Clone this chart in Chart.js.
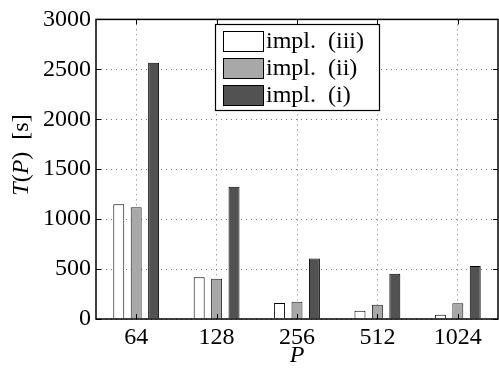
<!DOCTYPE html>
<html>
<head>
<meta charset="utf-8">
<script src="https://cdn.jsdelivr.net/npm/chart.js@4/dist/chart.umd.min.js"></script>
<style>
  html, body { margin: 0; padding: 0; background: #fff; }
  #wrap { width: 499px; height: 371px; }
</style>
</head>
<body>
<div id="wrap"><canvas id="chart"></canvas></div>
<script>
// data
const categories = ['64', '128', '256', '512', '1024'];
const implIII = [1150, 417, 160, 83, 43];
const implII = [1118, 403, 173, 143, 157];
const implI = [2565, 1325, 607, 453, 530];
const yTicks = [0, 500, 1000, 1500, 2000, 2500, 3000];

const serif = '"Liberation Serif", "DejaVu Serif", serif';

// frame, inward ticks, y title and the legend box inside the plot
const framePlugin = {
    id: 'frame',
    afterDraw(chart) {
        const ctx = chart.ctx;
        const a = chart.chartArea;
        const xs = chart.scales.x;
        const ys = chart.scales.y;
        ctx.save();
        ctx.strokeStyle = '#000';
        ctx.lineWidth = 1.5;
        ctx.strokeRect(a.left, a.top, a.right - a.left, a.bottom - a.top);

        // inward tick marks
        ctx.lineWidth = 1;
        ys.ticks.forEach((t, i) => {
            const y = Math.round(ys.getPixelForTick(i)) + 0.5;
            ctx.beginPath();
            ctx.moveTo(a.left, y); ctx.lineTo(a.left + 5, y);
            ctx.moveTo(a.right, y); ctx.lineTo(a.right - 5, y);
            ctx.stroke();
        });
        xs.ticks.forEach((t, i) => {
            const x = Math.round(xs.getPixelForTick(i)) + 0.5;
            ctx.beginPath();
            ctx.moveTo(x, a.bottom); ctx.lineTo(x, a.bottom - 5);
            ctx.moveTo(x, a.top); ctx.lineTo(x, a.top + 5);
            ctx.stroke();
        });

        // y title with italic T and P
        ctx.save();
        ctx.translate(22, 155);
        ctx.rotate(-Math.PI / 2);
        ctx.fillStyle = '#000';
        ctx.textBaseline = 'middle';
        const parts = [['T', 'italic '], ['(', ''], ['P', 'italic '], [')  [s]', '']];
        let total = 0;
        parts.forEach(p => { ctx.font = p[1] + '24px ' + serif; total += ctx.measureText(p[0]).width; });
        let px = -total / 2;
        parts.forEach(p => {
            ctx.font = p[1] + '24px ' + serif;
            ctx.fillText(p[0], px, 0);
            px += ctx.measureText(p[0]).width;
        });
        ctx.restore();

        // legend
        const lx = 215, ly = 24, lw = 164, lh = 86;
        ctx.fillStyle = '#fff';
        ctx.fillRect(lx, ly, lw, lh);
        ctx.lineWidth = 1.2;
        ctx.strokeRect(lx + 0.5, ly + 0.5, lw, lh);
        ctx.font = '24px ' + serif;
        ctx.textBaseline = 'middle';
        chart.data.datasets.forEach((ds, i) => {
            const cy = ly + 17 + i * 27;
            ctx.fillStyle = ds.backgroundColor;
            ctx.fillRect(lx + 8, cy - 10, 40, 20);
            ctx.strokeStyle = '#000';
            ctx.lineWidth = 1;
            ctx.strokeRect(lx + 8.5, cy - 9.5, 40, 20);
            ctx.fillStyle = '#000';
            ctx.fillText(ds.label, lx + 51, cy + 1);
        });
        ctx.restore();
    }
};

const ctx = document.getElementById('chart').getContext('2d');
new Chart(ctx, {
    type: 'bar',
    data: {
        labels: categories,
        datasets: [{
            label: 'impl.  (iii)',
            data: implIII,
            backgroundColor: '#ffffff',
            borderColor: '#000000',
            borderWidth: 1
        }, {
            label: 'impl.  (ii)',
            data: implII,
            backgroundColor: '#a8a8a8',
            borderColor: '#222222',
            borderWidth: 1
        }, {
            label: 'impl.  (i)',
            data: implI,
            backgroundColor: '#525252',
            borderColor: '#000000',
            borderWidth: 1
        }]
    },
    options: {
        responsive: true,
        maintainAspectRatio: false,
        animation: false,
        devicePixelRatio: 1,
        layout: { padding: { top: 18, right: 1, left: 0, bottom: 0 } },
        categoryPercentage: 0.65,
        barPercentage: 0.63,
        plugins: {
            legend: { display: false },
            tooltip: { enabled: false }
        },
        scales: {
            x: {
                grid: {
                    offset: false,
                    color: '#777',
                    lineWidth: 1,
                    drawTicks: false
                },
                border: { display: false, dash: [1, 4] },
                ticks: {
                    color: '#000',
                    font: { family: serif, size: 24 },
                    padding: 4,
                    maxRotation: 0
                },
                title: {
                    display: true,
                    text: 'P',
                    color: '#000',
                    font: { family: serif, size: 24, style: 'italic', lineHeight: 1 },
                    padding: { top: 0, bottom: 3 }
                },
                afterFit(scale) { scale.height = 52; }
            },
            y: {
                min: 0,
                max: 3000,
                afterBuildTicks(scale) {
                    scale.ticks = yTicks.map(v => ({ value: v }));
                },
                grid: {
                    color: '#777',
                    lineWidth: 1,
                    drawTicks: false
                },
                border: { display: false, dash: [1, 4] },
                ticks: {
                    color: '#000',
                    font: { family: serif, size: 24 },
                    padding: 5,
                    callback: v => String(v)
                },
                title: { display: false },
                afterFit(scale) { scale.width = 96; }
            }
        }
    },
    plugins: [framePlugin]
});
</script>
</body>
</html>
